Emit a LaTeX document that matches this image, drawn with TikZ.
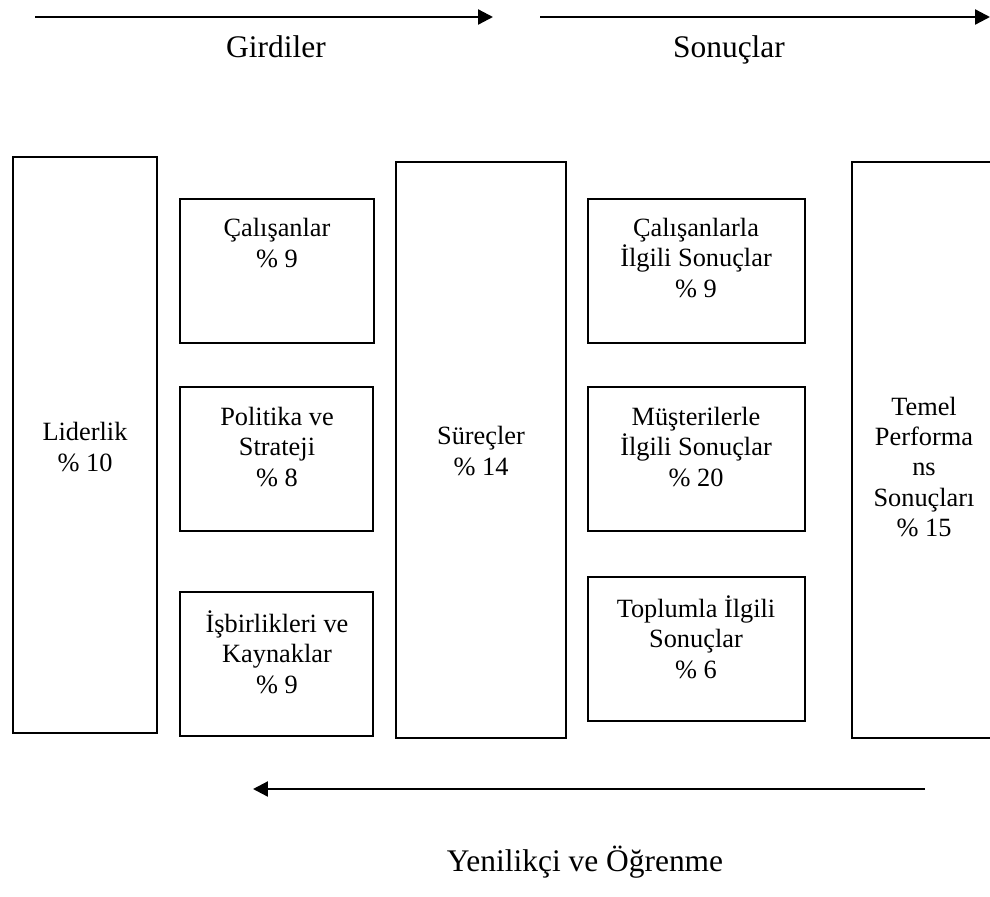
\documentclass[tikz,border=0pt]{standalone}
\usepackage{fontspec}
\setmainfont{Liberation Serif}
\usetikzlibrary{arrows.meta,fit}
\begin{document}
\begin{tikzpicture}[x=0.02cm,y=-0.02cm,
  box/.style={draw,line width=0.85pt,inner sep=0pt},
  txt/.style={align=center,inner sep=0pt,font=\fontsize{15}{17.3}\selectfont},
  lbl/.style={inner sep=0pt,font=\fontsize{17.9}{21}\selectfont},
  flow/.style={line width=1.3pt,-{Triangle[length=8.5pt,width=8.5pt]}}]
\useasboundingbox (0,0) rectangle (990,896);

% flow arrows and their captions
\coordinate (g1) at (35,17);   \coordinate (g2) at (493,17);
\coordinate (s1) at (540,17);  \coordinate (s2) at (990,17);
\coordinate (y1) at (925,789); \coordinate (y2) at (253,789);
\draw[flow] (g1) -- (g2);
\draw[flow] (s1) -- (s2);
\draw[flow] (y1) -- (y2);
\node[lbl,anchor=base] (girdi) at (276,57) {Girdiler};
\node[lbl,anchor=base] (sonuc) at (729,57) {Sonuçlar};
\node[lbl,anchor=base] (yenil) at (585,871) {Yenilikçi ve Öğrenme};

% tall columns
\node[box,fit={(13,157)(157,733)}] (lid) {};
\node[box,fit={(396,162)(566,738)}] (sur) {};
\node[box,fit={(852,162)(996,738)}] (tem) {};
\node[txt] (lidt) at (85,447) {Liderlik\\\% 10};
\node[txt] (surt) at (481,451) {Süreçler\\\% 14};
\node[txt] (temt) at (924,467) {Temel\\Performa\\ns\\Sonuçları\\\% 15};

% enabler boxes
\node[box,fit={(180,199)(374,343)}] (cal) {};
\node[box,fit={(180,387)(373,531)}] (pol) {};
\node[box,fit={(180,592)(373,736)}] (isb) {};
\node[txt] (calt) at (277,243) {Çalışanlar\\\% 9};
\node[txt] (polt) at (277,447) {Politika ve\\Strateji\\\% 8};
\node[txt] (isbt) at (277,652) {İşbirlikleri ve\\Kaynaklar\\\% 9};

% result boxes
\node[box,fit={(588,199)(805,343)}] (cil) {};
\node[box,fit={(588,387)(805,531)}] (mil) {};
\node[box,fit={(588,577)(805,721)}] (til) {};
\node[txt] (cilt) at (696,258) {Çalışanlarla\\İlgili Sonuçlar\\\% 9};
\node[txt] (milt) at (696,447) {Müşterilerle\\İlgili Sonuçlar\\\% 20};
\node[txt] (tilt) at (696,637) {Toplumla İlgili\\Sonuçlar\\\% 6};
\end{tikzpicture}
\end{document}
